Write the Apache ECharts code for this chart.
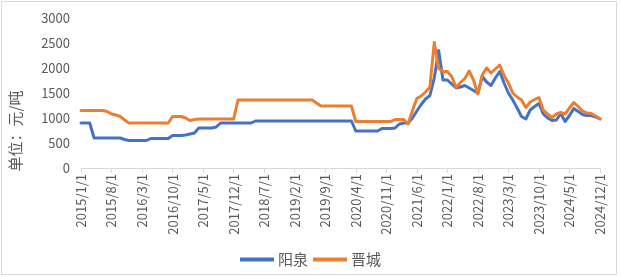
<!DOCTYPE html>
<html>
<head>
<meta charset="utf-8">
<script src="https://cdn.jsdelivr.net/npm/echarts@6/dist/echarts.min.js"></script>
<style>
html,body{margin:0;padding:0;background:#fff;}
#c{width:621px;height:277px;}
</style>
</head>
<body>
<div id="c"></div>
<script>
// monthly categories 2015/1/1 .. 2024/12/1
const categories = [];
for (let y = 2015; y <= 2024; y++) {
  for (let m = 1; m <= 12; m++) categories.push(y + '/' + m + '/1');
}
const yangquan = [
  900,900,900,600,600,600,600,600,600,600,
  570,550,550,550,550,550,590,590,590,590,
  590,650,650,650,660,680,700,800,800,800,
  800,820,900,900,900,900,900,900,900,900,
  940,940,940,940,940,940,940,940,940,940,
  940,940,940,940,940,940,940,940,940,940,
  940,940,940,740,740,740,740,740,740,790,
  790,790,800,880,900,900,1000,1140,1270,1380,
  1450,1800,2350,1760,1760,1680,1600,1620,1650,1600,
  1550,1500,1830,1720,1650,1800,1930,1700,1500,1360,
  1200,1030,980,1160,1230,1290,1080,1000,950,960,
  1090,930,1050,1190,1130,1070,1050,1050,1020,980
];
const jincheng = [
  1150,1150,1150,1150,1150,1150,1130,1080,1060,1030,
  960,900,900,900,900,900,900,900,900,900,
  900,1030,1030,1030,1000,950,970,980,980,980,
  980,980,980,980,980,980,1360,1360,1360,1360,
  1360,1360,1360,1360,1360,1360,1360,1360,1360,1360,
  1360,1360,1360,1360,1300,1240,1240,1240,1240,1240,
  1240,1240,1240,930,930,930,930,930,930,930,
  930,930,970,970,970,880,1150,1390,1440,1520,
  1620,2510,1990,1930,1930,1830,1610,1710,1790,1940,
  1760,1480,1860,2000,1900,1980,2060,1850,1700,1500,
  1420,1360,1210,1320,1370,1410,1160,1080,1010,1080,
  1110,1080,1200,1310,1230,1140,1100,1090,1040,990
];
const yTicks = [0, 500, 1000, 1500, 2000, 2500, 3000];
const seriesNames = ['阳泉', '晋城'];
const yTitle = '单位：元/吨';

const FONT = '"Noto Sans CJK SC", "Noto Sans", sans-serif';
const chart = echarts.init(document.getElementById('c'), null, {renderer: 'canvas'});
chart.setOption({
  animation: false,
  color: ['#4472C4', '#ED7D31'],
  grid: {left: 81, right: 21, top: 18, bottom: 109, containLabel: false},
  xAxis: {
    type: 'category',
    data: categories,
    boundaryGap: false,
    axisLine: {lineStyle: {color: '#d9d9d9', width: 1}},
    axisTick: {interval: 6, length: 5, lineStyle: {color: '#d9d9d9'}},
    axisLabel: {interval: 6, rotate: 90, color: '#595959', fontSize: 13, fontFamily: FONT, margin: 6},
    splitLine: {show: false}
  },
  yAxis: {
    type: 'value',
    min: yTicks[0],
    max: yTicks[yTicks.length - 1],
    interval: yTicks[1] - yTicks[0],
    axisLine: {show: false},
    axisTick: {show: false},
    splitLine: {show: false},
    axisLabel: {color: '#595959', fontSize: 13, fontFamily: FONT, margin: 11,
                formatter: function (v) { return String(v); }}
  },
  legend: {
    bottom: 5,
    left: 'center',
    icon: 'rect',
    itemWidth: 34,
    itemHeight: 4,
    itemGap: 5,
    textStyle: {color: '#595959', fontSize: 15, fontFamily: FONT, padding: [0, 0, 0, -1]},
    data: seriesNames
  },
  graphic: [
    {type: 'rect', shape: {x: 1.5, y: 1.5, width: 615, height: 273},
     style: {fill: 'none', stroke: '#d9d9d9', lineWidth: 1}, silent: true},
    {type: 'text', x: 15, y: 131, rotation: Math.PI / 2,
     style: {text: yTitle, fill: '#595959', font: '15px ' + FONT, align: 'center', verticalAlign: 'middle'}}
  ],
  series: [
    {name: seriesNames[0], type: 'line', data: yangquan, showSymbol: false, symbol: 'none',
     lineStyle: {width: 3, color: '#4472C4', join: 'round', cap: 'round'}},
    {name: seriesNames[1], type: 'line', data: jincheng, showSymbol: false, symbol: 'none',
     lineStyle: {width: 3, color: '#ED7D31', join: 'round', cap: 'round'}}
  ]
});
</script>
</body>
</html>
